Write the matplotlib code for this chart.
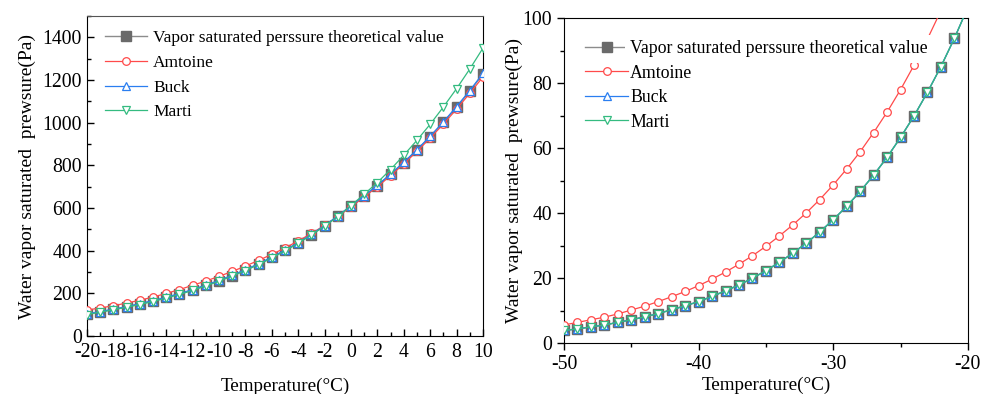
import matplotlib
matplotlib.use('Agg')
import matplotlib.pyplot as plt
import numpy as np
from matplotlib.ticker import MultipleLocator

plt.rcParams['font.family'] = ['Liberation Serif', 'DejaVu Serif']
plt.rcParams['mathtext.fontset'] = 'stix'
plt.rcParams['axes.unicode_minus'] = False

# ---- left panel data (-20 .. 10 degC)
t_left = np.arange(-20, 11)
theory_left = [103, 114, 125, 137, 151, 165, 181, 198, 217, 238, 260, 284, 310, 338, 369, 402,
               437, 476, 517, 562, 611, 657, 706, 758, 813, 872, 935, 1002, 1073, 1148, 1228]
amtoine_left = [122, 132, 142, 155, 168, 183, 200, 218, 238, 258, 280, 303, 328, 355, 383, 413,
                446, 481, 519, 560, 605, 652, 700, 752, 807, 866, 928, 994, 1064, 1138, 1215]
buck_left = [104, 115, 126, 138, 152, 166, 182, 199, 218, 239, 261, 285, 311, 339, 370, 403,
             438, 477, 518, 563, 611, 658, 707, 760, 815, 874, 937, 1004, 1076, 1151, 1232]
marti_left = [101, 112, 123, 135, 148, 162, 178, 195, 214, 235, 257, 281, 307, 335, 366, 399,
              435, 474, 515, 560, 612, 665, 720, 781, 848, 918, 993, 1074, 1160, 1252, 1350]

# ---- right panel data (-50 .. -20 degC)
t_right = np.arange(-50, -19)
theory_right = [3.9, 4.4, 5.0, 5.6, 6.4, 7.2, 8.1, 9.1, 10.3, 11.5, 12.8, 14.4, 16.1, 17.9, 20.0,
                22.3, 24.9, 27.7, 30.8, 34.2, 38.0, 42.1, 46.7, 51.7, 57.2, 63.3, 69.9, 77.2,
                85.1, 93.8, 103.3]
amtoine_right = [5.6, 6.4, 7.2, 8.0, 9.0, 10.2, 11.4, 12.8, 14.3, 15.9, 17.7, 19.7, 21.9, 24.3,
                 26.9, 29.8, 33.0, 36.4, 40.1, 44.2, 48.7, 53.6, 58.9, 64.8, 71.1, 78.0, 85.5,
                 93.6, 102.3, 111.6, 121.5]
buck_right = theory_right
marti_right = theory_right

names = ['Vapor saturated perssure theoretical value', 'Amtoine', 'Buck', 'Marti']
c_gray = '#6a6a6a'
c_red = '#ff4a4a'
c_blue = '#2a7ef0'
c_green = '#34bb80'


def draw(ax, t, th, am, bu, ma):
    ax.plot(t, th, color='#8c8c8c', lw=1.0, marker='s', ms=7.5, mfc=c_gray, mec=c_gray,
            label=names[0], zorder=2)
    ax.plot(t, am, color=c_red, lw=0.9, marker='o', ms=5.5, mfc='white', mec=c_red, mew=0.9,
            label=names[1], zorder=3)
    ax.plot(t, bu, color=c_blue, lw=0.9, marker='^', ms=5.5, mfc='white', mec=c_blue, mew=0.9,
            label=names[2], zorder=4)
    ax.plot(t, ma, color=c_green, lw=0.9, marker='v', ms=5.5, mfc='white', mec=c_green, mew=0.9,
            label=names[3], zorder=5)


fig = plt.figure(figsize=(9.85, 3.94), dpi=100)

# left
ax1 = fig.add_axes([0.0883, 0.147, 0.402, 0.812])
draw(ax1, t_left, theory_left, amtoine_left, buck_left, marti_left)
ax1.set_xlim(-20, 10)
ax1.set_ylim(0, 1500)
ax1.set_xticks(np.arange(-20, 11, 2))
ax1.xaxis.set_minor_locator(MultipleLocator(1))
ax1.set_yticks(np.arange(0, 1401, 200))
ax1.yaxis.set_minor_locator(MultipleLocator(100))
ax1.tick_params(which='both', direction='in', labelsize=14.2, top=False, right=False)
ax1.tick_params(which='major', length=5, width=1)
ax1.tick_params(which='minor', length=3, width=1)
ax1.tick_params(axis='x', pad=5)
ax1.spines['top'].set_color('#555555')
ax1.set_xlabel('Temperature(°C)', fontsize=13.8, labelpad=11)
ax1.set_ylabel('Water vapor saturated  prewsure(Pa)', fontsize=14, labelpad=5)
ax1.legend(loc='upper left', bbox_to_anchor=(0.02, 0.99), frameon=False, fontsize=12.5,
           handlelength=2.4, handletextpad=0.35, labelspacing=0.5, borderaxespad=0.2)

# right
ax2 = fig.add_axes([0.5726, 0.129, 0.41, 0.825])
draw(ax2, t_right, theory_right, amtoine_right, buck_right, marti_right)
ax2.set_xlim(-50, -20)
ax2.set_ylim(0, 100)
ax2.set_xticks([-50, -40, -30, -20])
ax2.xaxis.set_minor_locator(MultipleLocator(5))
ax2.set_yticks(np.arange(0, 101, 20))
ax2.yaxis.set_minor_locator(MultipleLocator(10))
ax2.tick_params(which='both', direction='out', labelsize=14.2)
ax2.tick_params(which='major', length=5, width=1)
ax2.tick_params(which='minor', length=3, width=1)
ax2.set_xlabel('Temperature(°C)', fontsize=13.8, labelpad=2)
ax2.set_ylabel('Water vapor saturated  prewsure(Pa)', fontsize=14, labelpad=0)
leg = ax2.legend(loc='upper left', bbox_to_anchor=(0.025, 0.965), frameon=False, fontsize=12.8,
                 handlelength=2.45, handletextpad=0.1, labelspacing=0.42, borderaxespad=0.2)
leg.set_zorder(10)
# the first legend entry hides the curve behind its text
leg.get_texts()[0].set_bbox(dict(facecolor='white', edgecolor='none', pad=4))

fig.savefig('out.png', dpi=100)
